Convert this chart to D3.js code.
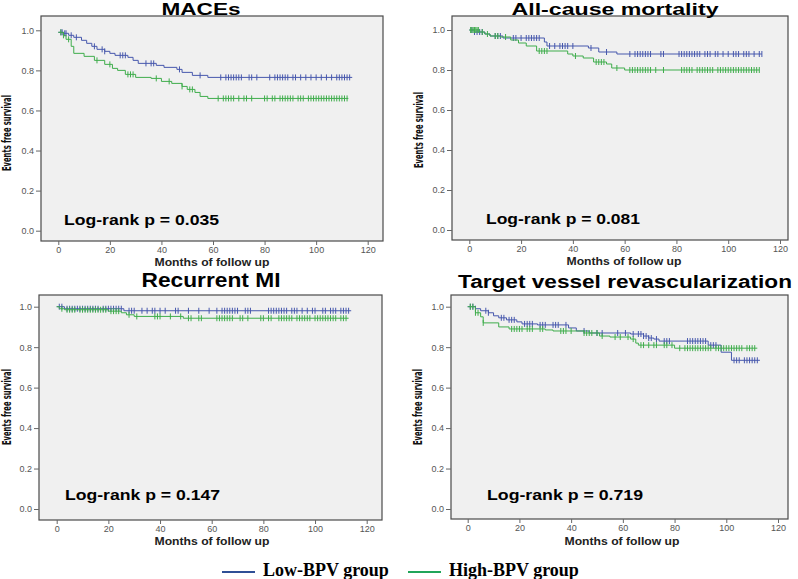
<!DOCTYPE html>
<html>
<head>
<meta charset="utf-8">
<script src="https://cdn.jsdelivr.net/npm/d3@7"></script>
<style>
  body { margin: 0; background: #fff; }
  svg { display: block; }
</style>
</head>
<body>
<script>
// Kaplan-Meier curves: step times / survival after step, plus censor times
const xTicks = [0, 20, 40, 60, 80, 100, 120];
const yTicks = [0, 0.2, 0.4, 0.6, 0.8, 1.0];
const titles = ["MACEs", "All-cause mortality", "Recurrent MI", "Target vessel revascularization"];
const pValues = ["0.035", "0.081", "0.147", "0.719"];
const groupNames = ["Low-BPV group", "High-BPV group"];

// MACEs
const macesLowT = [0, 2, 4, 6, 9, 11, 13, 15, 18, 20, 22, 27, 29, 31, 38, 41, 46, 48, 52, 58];
const macesLowS = [0.99, 0.985, 0.975, 0.965, 0.95, 0.935, 0.92, 0.905, 0.895, 0.885, 0.875, 0.865, 0.85, 0.835, 0.825, 0.815, 0.805, 0.79, 0.775, 0.765];
const macesLowEnd = 114;
const macesLowCens = [1, 1.5, 2.5, 3, 5, 7, 14, 17, 18, 24, 25, 26, 34, 36, 37, 47, 55, 63, 65, 66, 67, 68, 69, 70, 71, 74, 75, 77, 82, 84, 85, 86, 87, 88, 89, 91, 92, 94, 96, 98, 100, 102, 104, 106, 108, 109, 110, 111, 112, 113];
const macesHighT = [0, 2, 3, 5, 6, 10, 14, 18, 21, 23, 26, 30, 36, 40, 44, 48, 50, 53, 55, 58];
const macesHighS = [0.99, 0.975, 0.955, 0.92, 0.885, 0.87, 0.85, 0.83, 0.81, 0.8, 0.78, 0.765, 0.76, 0.745, 0.735, 0.72, 0.705, 0.69, 0.67, 0.66];
const macesHighEnd = 112.5;
const macesHighCens = [1, 2, 4, 15, 20, 27, 28, 29, 38, 43, 48, 51, 52, 62, 64, 65, 66, 67, 68, 70, 72, 73, 75, 80, 81, 83, 84, 86, 87, 88, 89, 90, 91, 93, 94, 95, 97, 98, 99, 100, 101, 102, 103, 104, 105, 106, 107, 108, 109, 110, 111, 112];

// All-cause mortality
const deathLowT = [0, 2, 6, 8, 13, 29, 30, 46, 50, 57];
const deathLowS = [1.0, 0.99, 0.98, 0.97, 0.96, 0.94, 0.92, 0.91, 0.89, 0.88];
const deathLowEnd = 113;
const deathLowCens = [1, 2, 3, 4, 5, 10, 11, 12, 17, 18, 20, 22, 23, 24, 25, 26, 27, 31, 33, 35, 36, 37, 38, 40, 47, 53, 62, 64, 65, 66, 67, 68, 69, 70, 74, 75, 81, 82, 83, 84, 85, 86, 87, 88, 89, 91, 92, 93, 95, 96, 98, 100, 102, 103, 104, 106, 107, 108, 110, 112, 113];
const deathHighT = [0, 4, 6, 8, 12, 16, 19, 22, 26, 38, 40, 44, 48, 53, 55, 60];
const deathHighS = [1.0, 0.99, 0.98, 0.97, 0.965, 0.95, 0.935, 0.92, 0.895, 0.88, 0.87, 0.86, 0.84, 0.83, 0.81, 0.8];
const deathHighEnd = 112;
const deathHighCens = [0.5, 1, 1.5, 2, 2.5, 3, 3.5, 5, 7, 10, 11, 14, 27, 28, 29, 30, 41, 49, 50, 51, 52, 57, 62, 63, 64, 65, 66, 67, 68, 69, 70, 72, 75, 82, 83, 84, 85, 86, 88, 89, 90, 91, 92, 93, 94, 96, 97, 98, 99, 100, 101, 102, 103, 104, 105, 106, 107, 108, 109, 110, 111, 112];

// Recurrent MI
const miLowT = [0, 3, 26];
const miLowS = [1.0, 0.99, 0.98];
const miLowEnd = 114;
const miLowCens = [1, 2, 4, 5, 6, 7, 8, 9, 10, 11, 12, 13, 14, 15, 16, 18, 19, 20, 21, 22, 23, 24, 25, 28, 29, 30, 33, 35, 37, 38, 40, 42, 46, 47, 51, 55, 59, 62, 64, 65, 66, 67, 68, 69, 70, 73, 74, 75, 82, 83, 84, 85, 86, 87, 88, 89, 91, 92, 93, 95, 97, 99, 100, 103, 104, 106, 107, 108, 110, 111, 112, 113];
const miHighT = [0, 1, 3, 20, 25, 27, 30, 49];
const miHighS = [1.0, 0.99, 0.985, 0.978, 0.97, 0.96, 0.952, 0.943];
const miHighEnd = 113;
const miHighCens = [2, 4, 5, 6, 7, 9, 10, 11, 12, 13, 14, 15, 16, 17, 18, 19, 21, 22, 23, 24, 28, 31, 38, 39, 40, 44, 48, 51, 52, 55, 56, 62, 63, 64, 65, 66, 67, 68, 71, 72, 74, 79, 80, 82, 83, 86, 87, 88, 89, 90, 91, 93, 94, 95, 96, 97, 98, 100, 101, 102, 103, 104, 105, 106, 107, 108, 110, 111, 112];

// Target vessel revascularization
const tvrLowT = [0, 3, 5, 8, 10, 12, 15, 19, 21, 27, 39, 42, 47, 63, 68, 70, 72, 74, 93, 98, 102];
const tvrLowS = [1.0, 0.99, 0.98, 0.97, 0.955, 0.945, 0.935, 0.925, 0.915, 0.91, 0.895, 0.88, 0.87, 0.865, 0.855, 0.845, 0.84, 0.83, 0.81, 0.775, 0.735];
const tvrLowEnd = 113;
const tvrLowCens = [1, 2, 3, 7, 8, 13, 14, 16, 17, 18, 22, 23, 24, 25, 28, 29, 30, 33, 34, 35, 38, 45, 50, 52, 58, 61, 64, 66, 67, 68, 69, 70, 71, 73, 76, 77, 78, 85, 86, 87, 88, 89, 90, 91, 92, 94, 95, 96, 103, 104, 105, 107, 108, 109, 110, 111, 112];
const tvrHighT = [0, 3, 5, 6, 12, 16, 30, 33, 45, 51, 55, 63, 65, 66, 80];
const tvrHighS = [1.0, 0.97, 0.95, 0.92, 0.9, 0.89, 0.885, 0.88, 0.87, 0.855, 0.85, 0.84, 0.82, 0.81, 0.795];
const tvrHighEnd = 112;
const tvrHighCens = [1, 2, 3, 4, 6, 17, 18, 19, 20, 21, 23, 24, 25, 28, 29, 36, 37, 38, 40, 45, 46, 47, 48, 50, 52, 57, 59, 62, 64, 67, 68, 70, 72, 73, 76, 77, 79, 82, 84, 85, 86, 87, 88, 89, 90, 91, 92, 93, 94, 96, 97, 98, 99, 100, 101, 102, 103, 104, 105, 106, 108, 109, 110, 111];

const colors = ["#4758ad", "#3fad4c"];
const legendColors = ["#2f4f96", "#20a55a"];

// panel geometry (frame box + where 0/120 and 0/1 fall)
const panels = [
  { frame: [41, 16, 383, 241], x: [58.3, 367.7], y: [230.7, 30.3], title: { x: 201, y: 15, size: 16, w: 79 },
    p: { x: 64, y: 225, w: 155 }, xl: { x: 212, y: 266 }, yl: { x: 11, y: 133 },
    curves: [[macesLowT, macesLowS, macesLowEnd, macesLowCens], [macesHighT, macesHighS, macesHighEnd, macesHighCens]] },
  { frame: [452, 16, 788, 240], x: [469.3, 780], y: [230, 30], title: { x: 615, y: 15, size: 16, w: 207 },
    p: { x: 486, y: 224, w: 154 }, xl: { x: 624, y: 265 }, yl: { x: 423, y: 130 },
    curves: [[deathLowT, deathLowS, deathLowEnd, deathLowCens], [deathHighT, deathHighS, deathHighEnd, deathHighCens]] },
  { frame: [39, 295, 382, 520], x: [56.7, 366.7], y: [509, 306.7], title: { x: 211, y: 287, size: 20, w: 139 },
    p: { x: 65, y: 500, w: 155 }, xl: { x: 212, y: 545 }, yl: { x: 11, y: 407 },
    curves: [[miLowT, miLowS, miLowEnd, miLowCens], [miHighT, miHighS, miHighEnd, miHighCens]] },
  { frame: [451, 295, 788, 519], x: [467.7, 778], y: [509, 306.7], title: { x: 625, y: 288, size: 18, w: 334 },
    p: { x: 487, y: 500, w: 156 }, xl: { x: 622, y: 545 }, yl: { x: 422, y: 407 },
    curves: [[tvrLowT, tvrLowS, tvrLowEnd, tvrLowCens], [tvrHighT, tvrHighS, tvrHighEnd, tvrHighCens]] }
];

const svg = d3.select("body").append("svg")
  .attr("width", 798)
  .attr("height", 579);

svg.append("rect").attr("width", 798).attr("height", 579).attr("fill", "#fff");

function survAt(T, S, t) {
  let s = S[0];
  for (let i = 0; i < T.length; i++) {
    if (T[i] <= t) s = S[i];
  }
  return s;
}

panels.forEach((pn, k) => {
  const [x0, y0, x1, y1] = pn.frame;
  const x = d3.scaleLinear().domain([0, 120]).range(pn.x);
  const y = d3.scaleLinear().domain([0, 1]).range(pn.y);
  const g = svg.append("g");

  g.append("rect")
    .attr("x", x0).attr("y", y0)
    .attr("width", x1 - x0).attr("height", y1 - y0)
    .attr("fill", "#f0f0f0")
    .attr("stroke", "#4a4a4a")
    .attr("stroke-width", 1.2);

  const yAxis = g.append("g")
    .attr("transform", `translate(${x0},0)`)
    .call(d3.axisLeft(y).tickValues(yTicks).tickFormat(d3.format(".1f")).tickSize(5).tickPadding(2));
  const xAxis = g.append("g")
    .attr("transform", `translate(0,${y1})`)
    .call(d3.axisBottom(x).tickValues(xTicks).tickSize(4).tickPadding(2));
  [yAxis, xAxis].forEach(ax => {
    ax.select(".domain").remove();
    ax.selectAll(".tick line").attr("stroke", "#666");
    ax.selectAll(".tick text")
      .attr("fill", "#555")
      .style("font-family", "'Liberation Sans', Arial, sans-serif")
      .style("font-size", "9px");
  });

  // curves
  const line = d3.line()
    .x(d => x(d[0]))
    .y(d => y(d[1]))
    .curve(d3.curveStepAfter);

  pn.curves.forEach((c, gi) => {
    const [T, S, end, cens] = c;
    const pts = T.map((t, i) => [t, S[i]]);
    pts.push([end, S[S.length - 1]]);
    g.append("path")
      .datum(pts)
      .attr("fill", "none")
      .attr("stroke", colors[gi])
      .attr("stroke-width", 1)
      .attr("d", line);

    g.selectAll(null)
      .data(cens)
      .enter().append("line")
      .attr("x1", d => x(d)).attr("x2", d => x(d))
      .attr("y1", d => y(survAt(T, S, d)) - 3)
      .attr("y2", d => y(survAt(T, S, d)) + 3)
      .attr("stroke", colors[gi])
      .attr("stroke-width", 1);
  });

  // title
  svg.append("text")
    .attr("x", pn.title.x)
    .attr("y", pn.title.y)
    .attr("text-anchor", "middle")
    .attr("textLength", pn.title.w)
    .attr("lengthAdjust", "spacingAndGlyphs")
    .style("font-family", "'Liberation Sans', Arial, sans-serif")
    .style("font-weight", "bold")
    .style("font-size", pn.title.size + "px")
    .text(titles[k]);

  // log-rank
  svg.append("text")
    .attr("x", pn.p.x)
    .attr("y", pn.p.y)
    .attr("textLength", pn.p.w)
    .attr("lengthAdjust", "spacingAndGlyphs")
    .style("font-family", "'Liberation Sans', Arial, sans-serif")
    .style("font-weight", "bold")
    .style("font-size", "14px")
    .text(`Log-rank p = ${pValues[k]}`);

  // axis labels
  svg.append("text")
    .attr("x", pn.xl.x)
    .attr("y", pn.xl.y)
    .attr("text-anchor", "middle")
    .attr("textLength", 115)
    .attr("lengthAdjust", "spacingAndGlyphs")
    .style("font-family", "'Liberation Sans', Arial, sans-serif")
    .style("font-weight", "bold")
    .style("font-size", "10px")
    .attr("fill", "#222")
    .text("Months of follow up");

  svg.append("text")
    .attr("transform", `translate(${pn.yl.x},${pn.yl.y}) rotate(-90)`)
    .attr("text-anchor", "middle")
    .attr("textLength", 76)
    .attr("lengthAdjust", "spacingAndGlyphs")
    .style("font-family", "'Liberation Sans Narrow', 'DejaVu Sans Condensed', Arial, sans-serif")
    .style("font-weight", "bold")
    .style("font-size", "12px")
    .attr("fill", "#111")
    .text("Events free survival");
});

// legend
const legendX = [222, 408];
groupNames.forEach((name, i) => {
  svg.append("line")
    .attr("x1", legendX[i]).attr("x2", legendX[i] + 33)
    .attr("y1", 572).attr("y2", 572)
    .attr("stroke", legendColors[i])
    .attr("stroke-width", 2);
  svg.append("text")
    .attr("x", legendX[i] + 41)
    .attr("y", 576)
    .style("font-family", "'Liberation Serif', 'Times New Roman', serif")
    .style("font-weight", "bold")
    .style("font-size", "18px")
    .text(name);
});
</script>
</body>
</html>
